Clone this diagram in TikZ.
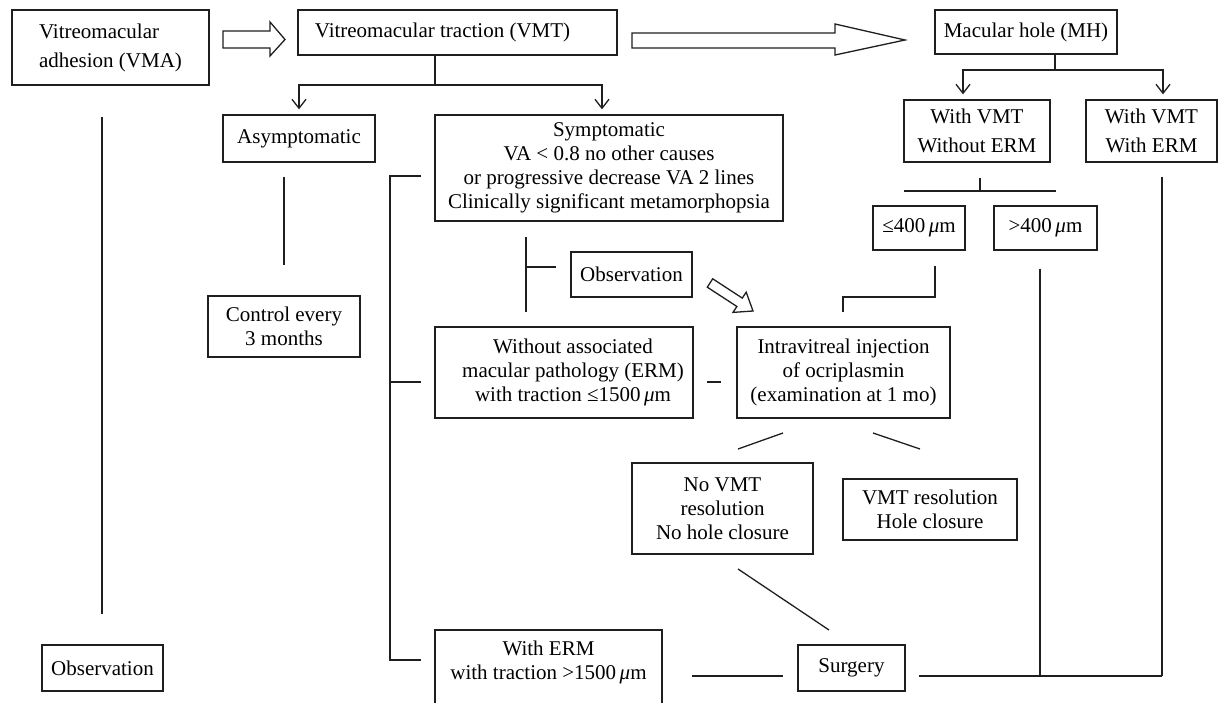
\documentclass[tikz,border=0pt]{standalone}
\usepackage{fontspec}
\setmainfont{Liberation Serif}
\usetikzlibrary{arrows.meta,calc}
\tikzset{
  box/.style={draw=black!88, line width=1.3pt, inner sep=0pt, align=center, font=\fontsize{21}{24}\selectfont},
  txt/.style={inner sep=0pt, align=center, font=\fontsize{21}{24}\selectfont},
  ln/.style={draw=black!88, line width=1.3pt},
  arr/.style={ln, shorten >=5pt, -{Straight Barb[length=9pt,width=14pt,line width=1.3pt]}},
  hollow/.style={draw=black!88, line width=1.3pt, fill=white, line join=miter}
}
\newcommand{\um}{\,\textit{μ}m}
\begin{document}
\begin{tikzpicture}[x=1pt,y=-1pt]
\useasboundingbox (0,0) rectangle (1219,703);

% boxes
\node[box, minimum width=197pt, minimum height=75pt, align=left] (vma) at (110.5,47.5) {Vitreomacular\\[5pt]adhesion (VMA)};
\node[box, minimum width=319pt, minimum height=45pt] (vmt) at (457.5,32.5) {Vitreomacular traction (VMT)\hspace*{30pt}};
\node[box, minimum width=182pt, minimum height=44pt] (mh) at (1026,32) {Macular hole (MH)};
\node[box, minimum width=146pt, minimum height=62pt] (wo) at (977,131) {With VMT\\[5pt]Without ERM};
\node[box, minimum width=131pt, minimum height=62pt] (we) at (1151.5,131) {With VMT\\[5pt]With ERM};
\node[box, minimum width=92pt, minimum height=44pt] (le) at (919,228) {≤400\um};
\node[box, minimum width=103pt, minimum height=44pt] (gt) at (1045.5,228) {>400\um};
\node[box, minimum width=152pt, minimum height=47pt] (asym) at (299,138.5) {Asymptomatic};
\node[box, minimum width=348pt, minimum height=106pt] (symp) at (609,168) {Symptomatic\\VA < 0.8 no other causes\\or progressive decrease VA 2 lines\\Clinically significant metamorphopsia};
\node[box, minimum width=152pt, minimum height=61pt] (ctrl) at (284,326.5) {Control every\\3 months};
\node[box, minimum width=121pt, minimum height=45pt] (obsa) at (631.5,274.5) {Observation};
\node[box, minimum width=258pt, minimum height=91pt] (without) at (564,372.5) {};
\node[txt] (withoutt) at (573,372.5) {Without associated\\macular pathology (ERM)\\with traction ≤1500\um};
\node[box, minimum width=213pt, minimum height=91pt] (ivi) at (843.5,372.5) {Intravitreal injection\\of ocriplasmin\\(examination at 1 mo)};
\node[box, minimum width=181pt, minimum height=91pt] (novmt) at (722.5,508.5) {No VMT\\resolution\\No hole closure};
\node[box, minimum width=174pt, minimum height=61pt] (vmtres) at (930,509.5) {VMT resolution\\Hole closure};
\node[box, minimum width=121pt, minimum height=46pt] (obsb) at (102.5,668) {Observation};
\node[box, minimum width=227pt, minimum height=91pt] (werm) at (548.5,675.5) {};
\node[txt] (wermt) at (548.5,662) {With ERM\\with traction >1500\um};
\node[box, minimum width=107pt, minimum height=46pt] (surg) at (851.5,668) {Surgery};

% hollow arrows
\draw[hollow] (223,31) -- (270,31) -- (270,22) -- (285,39.5) -- (270,56) -- (270,48) -- (223,48) -- cycle;
\draw[hollow] (632,33) -- (835,33) -- (835,24) -- (905,40) -- (835,55) -- (835,48) -- (632,48) -- cycle;
\draw[hollow] (707.3,287.2) -- (736.9,306.5) -- (733.0,312.4) -- (753,311) -- (746.2,292.2) -- (742.3,298.1) -- (712.7,278.8) -- cycle;

% VMT split
\coordinate (j1) at (435,85);
\draw[ln] (vmt.south -| j1) -- (j1);
\draw[arr] (j1) -| (asym.north);
\draw[arr] (j1) -| ($(symp.north)+(-7,0)$);

% MH split
\coordinate (j2) at (1055,70);
\draw[ln] (mh.south -| j2) -- (j2);
\draw[arr] (j2) -| ($(wo.north)+(-14,0)$);
\draw[arr] (j2) -| ($(we.north)+(11.5,0)$);

% With VMT without ERM split
\draw[ln] ($(wo.south)+(3,15)$) coordinate (j3) -- ++(0,14);
\draw[ln] (904,191) -- (1056,191);

% asymptomatic -> control
\draw[ln] ($(asym.south)+(-15,14)$) -- ($(ctrl.north)+(0,-30)$);

% VMA -> observation
\draw[ln] ($(vma.south)+(-8.5,31)$) -- ($(obsb.north)+(-0.5,-30)$);

% bracket
\coordinate (b1) at (421,176);
\coordinate (b2) at (421,382);
\coordinate (b3) at (421,660);
\draw[ln] (b1) -- (390,176) -- (390,660) -- (b3);
\draw[ln] (390,382) -- (b2);

% symptomatic stem
\draw[ln] (526,237) -- (526,312);
\draw[ln] (526,267) -- (556,267);

% <=400 to injection
\draw[ln] ($(le.south)+(16,15)$) -- (935,297) -- (843,297) -- (843,312);

% dash between without and injection
\draw[ln] (707,382) -- (721,382);

% injection diagonals
\draw[ln] (783,433) -- (738,449);
\draw[ln] (873,433) -- (920,449);

% no VMT -> surgery
\draw[ln] (738,569) -- (829,630);

% right verticals and bottom line
\draw[ln] ($(gt.south)+(-5.5,18)$) -- (1040,676);
\draw[ln] ($(we.south)+(10.5,14)$) -- (1162,676);
\draw[ln] (919,676) -- (1162,676);

% with ERM -> surgery
\draw[ln] (692,676) -- (783,676);
\end{tikzpicture}
\end{document}
